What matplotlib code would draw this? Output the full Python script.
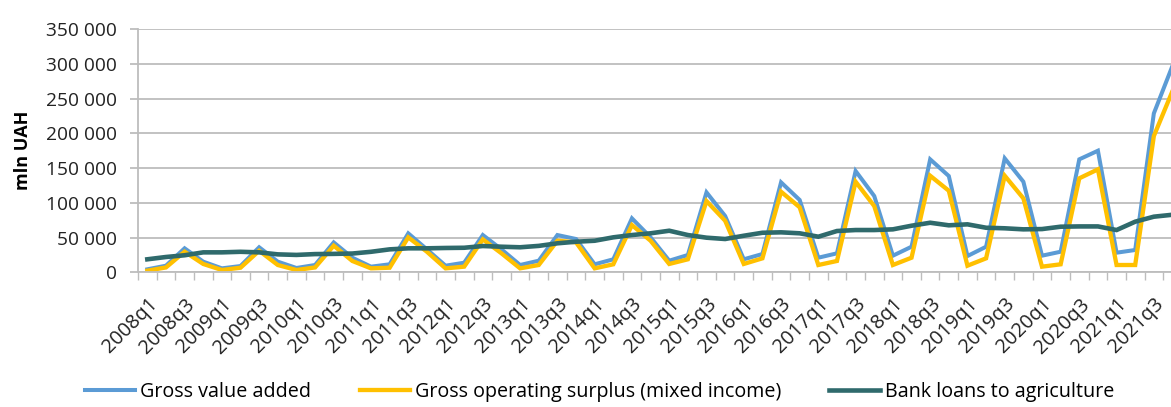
import matplotlib.pyplot as plt
import matplotlib.ticker as mticker
import numpy as np

plt.rcParams['font.family'] = ['Open Sans', 'DejaVu Sans']

## Quarters 2008q1 .. 2021q4
quarters = ['%dq%d' % (y, q) for y in range(2008, 2022) for q in range(1, 5)]

## values, mln UAH
gva = [4300, 9500, 34500, 15300, 5700, 9000, 36000, 15300, 6200, 10500,
       43000, 21000, 8100, 11500, 56000, 33000, 9500, 13800, 53600, 33000,
       10500, 16700, 53600, 47900, 11500, 18700, 77600, 50300, 16700, 24900,
       115000, 81000, 18700, 26300, 129400, 104000, 21000, 27300, 145700, 109700,
       23900, 36800, 162500, 138500, 23400, 36800, 163900, 130300, 23900, 29600,
       162500, 174900, 28200, 32100, 228600, 297000]
gos = [2300, 7000, 29600, 12000, 3300, 6600, 31000, 10500, 3300, 7000,
       38300, 16300, 5700, 6600, 50300, 29600, 5700, 8100, 47400, 27300,
       5700, 10500, 45400, 43100, 5700, 11500, 68000, 45400, 12000, 18700,
       102500, 74200, 12000, 20100, 115900, 93500, 10500, 16300, 130300, 95300,
       10500, 21000, 138900, 117300, 9500, 20100, 138900, 106400, 8100, 11500,
       135200, 148100, 10500, 10500, 196000, 260700]
loans = [18700, 22000, 24500, 28700, 28700, 29500, 28700, 25800, 25000, 26200,
         26500, 27000, 29500, 33000, 34500, 34500, 35000, 35300, 37800, 36800,
         36000, 38000, 41700, 44000, 45400, 50300, 53600, 56100, 59800, 53600,
         49800, 47900, 52600, 56900, 57500, 56100, 51200, 59400, 60800, 60800,
         61800, 67000, 71300, 67600, 69000, 64100, 63300, 61800, 62200, 65600,
         66000, 66000, 60800, 72800, 80000, 82800]

labels = ['Gross value added', 'Gross operating surplus (mixed income)',
          'Bank loans to agriculture']
colors = ['#5B9BD5', '#FFC000', '#2F6A6C']
widths = [2.9, 3.1, 3.3]

x = np.arange(len(quarters))

fig = plt.figure(figsize=(11.71, 4.07), dpi=100)
## axes runs a bit past the right edge, like the clipped original
ax = fig.add_axes([138/1171., 1-272.3/407., 1043.8/1171., 243.3/407.])

for s, c, w, l in zip([gva, gos, loans], colors, widths, labels):
    ax.plot(x, s, color=c, lw=w, label=l, solid_joinstyle='miter')

ax.set_xlim(-0.5, len(quarters)-0.5)
ax.set_ylim(0, 350000)
ax.yaxis.set_major_locator(mticker.MultipleLocator(50000))
ax.yaxis.set_major_formatter(mticker.FuncFormatter(lambda v, p: '{:,.0f}'.format(v).replace(',', ' ')))
ax.grid(axis='y', color='#BDBDBD', lw=1.3)
ax.set_axisbelow(True)

ax.set_xticks(x[::2])
ax.set_xticklabels(quarters[::2], rotation=45, ha='right', rotation_mode='anchor')
ax.set_xticks(np.arange(-0.5, len(quarters)), minor=True)
ax.tick_params(axis='x', which='major', length=0, pad=16, labelsize=14.3, colors='#222222')
ax.tick_params(axis='x', which='minor', length=6, width=1, color='#BDBDBD')
ax.tick_params(axis='y', length=6, width=1.3, color='#BDBDBD', labelsize=13.8,
               labelcolor='#222222', pad=9)

for sp in ['top', 'right']:
    ax.spines[sp].set_visible(False)
ax.spines['left'].set_color('#BDBDBD')
ax.spines['left'].set_linewidth(1.3)
ax.spines['bottom'].set_color('#BDBDBD')
ax.spines['bottom'].set_linewidth(1.3)

ax.set_ylabel('mln UAH', fontsize=13, fontweight='bold', labelpad=10)

fig.legend(loc='center', bbox_to_anchor=(0.512, 1-392/407.), ncol=3,
           frameon=False, fontsize=14.2, handlelength=2.55, columnspacing=2.45,
           handletextpad=0.25)

fig.savefig('out.png', dpi=100)
